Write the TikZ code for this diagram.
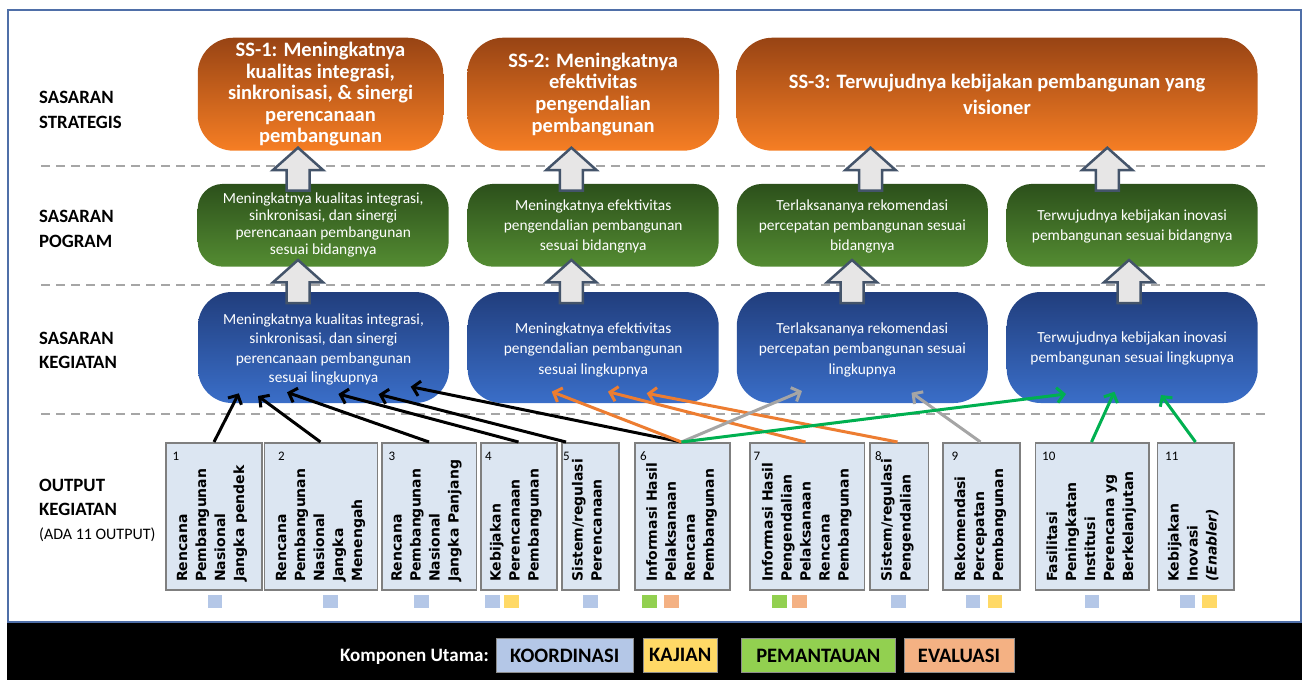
\documentclass[tikz,border=0pt]{standalone}
\usepackage{fontspec}
\setmainfont{Carlito}
\newfontfamily\dvfont{DejaVu Sans}
\usetikzlibrary{arrows.meta}
\definecolor{ortop}{RGB}{152,68,20}
\definecolor{orbot}{RGB}{246,126,36}
\definecolor{grtop}{RGB}{44,80,27}
\definecolor{grbot}{RGB}{84,140,50}
\definecolor{bltop}{RGB}{33,62,125}
\definecolor{blbot}{RGB}{58,110,200}
\definecolor{ofill}{RGB}{220,230,242}
\definecolor{obord}{RGB}{127,127,127}
\definecolor{arrfill}{RGB}{231,230,230}
\definecolor{arrdraw}{RGB}{68,84,106}
\definecolor{dashc}{RGB}{166,166,166}
\definecolor{framec}{RGB}{79,111,168}
\definecolor{kcol}{RGB}{180,199,231}
\definecolor{jcol}{RGB}{255,217,102}
\definecolor{pcol}{RGB}{146,208,80}
\definecolor{ecol}{RGB}{244,177,131}
\definecolor{oranln}{RGB}{237,125,49}
\definecolor{grayln}{RGB}{165,165,165}
\definecolor{greenln}{RGB}{0,176,80}
\tikzset{
  ssbox/.style={rounded corners=36pt, top color=ortop, bottom color=orbot, draw=none,
    text=white, align=center, inner sep=0pt, font=\fontsize{20.5}{21.6}\selectfont\bfseries},
  gbox/.style={rounded corners=25pt, top color=grtop, bottom color=grbot, draw=none,
    text=white, align=center, inner sep=0pt, minimum height=82.7pt, minimum width=251pt},
  blbox/.style={rounded corners=34pt, top color=bltop, bottom color=blbot, draw=none,
    text=white, align=center, inner sep=0pt, minimum height=111pt, minimum width=251pt},
  boxtext/.style={text=white, align=center, inner sep=0pt},
  obox/.style={draw=obord, fill=ofill, line width=1.5pt, minimum height=147pt,
    anchor=north west, inner sep=0pt},
  vtext/.style={rotate=90, anchor=base west, inner sep=0pt,
    font=\dvfont\bfseries\fontsize{14}{19}\selectfont},
  numlbl/.style={anchor=base west, inner sep=0pt, font=\fontsize{13}{15}\selectfont},
  lvl/.style={anchor=base west, inner sep=0pt, font=\bfseries\fontsize{18.8}{24.5}\selectfont},
  dashln/.style={draw=dashc, line width=2.2pt, dash pattern=on 9pt off 6pt},
  barrow/.style={draw=arrdraw, fill=arrfill, line width=2.5pt, line join=miter},
  conn/.style={line width=3pt, -{Straight Barb[length=7pt,width=15pt]}},
  legbox/.style={draw=black!45, line width=1pt, minimum height=34pt, inner sep=0pt,
    font=\bfseries\fontsize{20.5}{24}\selectfont},
  pics/uparrow/.style={code={
    \draw[barrow] (-11.5,43) -- (-11.5,22.3) -- (-25,22.3) -- (0,0) -- (25,22.3)
      -- (11.5,22.3) -- (11.5,43) -- cycle;}}
}
\begin{document}
\begin{tikzpicture}[x=1pt,y=-1pt]
\useasboundingbox (0,0) rectangle (1306,680);
\fill[white] (0,0) rectangle (1306,680);
\fill[black] (7,622) rectangle (1302,680);
\draw[framec, line width=1.5pt] (8,10) rectangle (1301,622);

% level labels
\node[lvl] (lss) at (39,103.8) {\begin{tabular}[t]{@{}l@{}}SASARAN\\STRATEGIS\end{tabular}};
\node[lvl] (lsp) at (39,222.7) {\begin{tabular}[t]{@{}l@{}}SASARAN\\POGRAM\end{tabular}};
\node[lvl] (lsk) at (39,344) {\begin{tabular}[t]{@{}l@{}}SASARAN\\KEGIATAN\end{tabular}};
\node[lvl] (lok) at (39,491) {\begin{tabular}[t]{@{}l@{}}OUTPUT\\KEGIATAN\end{tabular}};
\node[anchor=base west, inner sep=0pt, font=\fontsize{16}{19}\selectfont] (lada) at (39,539.5) {(ADA 11 OUTPUT)};

% dashed separators
\draw[dashln] (41,165.7) -- (1268,165.7);
\draw[dashln] (41,285) -- (1268,285);
\draw[dashln] (41,414) -- (1268,414);

% sasaran strategis
\node[ssbox, minimum width=245.5pt, minimum height=113pt] (ss1) at (320.5,94.2)
  {SS-1: Meningkatnya\\kualitas integrasi,\\sinkronisasi, \& sinergi\\perencanaan\\pembangunan};
\node[ssbox, minimum width=251.6pt, minimum height=113pt] (ss2) at (593.2,94.2)
  {SS-2: Meningkatnya\\efektivitas\\pengendalian\\pembangunan};
\node[ssbox, minimum width=521pt, minimum height=113pt, font=\fontsize{20.5}{26.6}\selectfont\bfseries] (ss3) at (997,94.2)
  {SS-3: Terwujudnya kebijakan pembangunan yang\\visioner};

% sasaran program
\node[gbox] (g1) at (323.2,225.3) {};
\node[boxtext, font=\fontsize{15.4}{16.7}\selectfont] (g1t) at (323.2,225) {Meningkatnya kualitas integrasi,\\sinkronisasi, dan sinergi\\perencanaan pembangunan\\sesuai bidangnya};
\node[gbox] (g2) at (593.2,225.3) {};
\node[boxtext, font=\fontsize{15.4}{20}\selectfont] (g2t) at (593.2,226.5) {Meningkatnya efektivitas\\pengendalian pembangunan\\sesuai bidangnya};
\node[gbox] (g3) at (862.3,225.3) {};
\node[boxtext, font=\fontsize{15.4}{20}\selectfont] (g3t) at (862.3,226.5) {Terlaksananya rekomendasi\\percepatan pembangunan sesuai\\bidangnya};
\node[gbox] (g4) at (1132.2,225.3) {};
\node[boxtext, font=\fontsize{15.4}{20}\selectfont] (g4t) at (1132.2,226.5) {Terwujudnya kebijakan inovasi\\pembangunan sesuai bidangnya};

% sasaran kegiatan
\node[blbox] (b1) at (323.5,347.5) {};
\node[boxtext, font=\fontsize{15.4}{19.3}\selectfont] (b1t) at (323.5,349.5) {Meningkatnya kualitas integrasi,\\sinkronisasi, dan sinergi\\perencanaan pembangunan\\sesuai lingkupnya};
\node[blbox] (b2) at (593.2,347.5) {};
\node[boxtext, font=\fontsize{15.4}{20.5}\selectfont] (b2t) at (593.2,349.5) {Meningkatnya efektivitas\\pengendalian pembangunan\\sesuai lingkupnya};
\node[blbox] (b3) at (862.3,347.5) {};
\node[boxtext, font=\fontsize{15.4}{20.5}\selectfont] (b3t) at (862.3,349.5) {Terlaksananya rekomendasi\\percepatan pembangunan sesuai\\lingkupnya};
\node[blbox] (b4) at (1132.2,347.5) {};
\node[boxtext, font=\fontsize{15.4}{20.5}\selectfont] (b4t) at (1132.2,348.5) {Terwujudnya kebijakan inovasi\\pembangunan sesuai lingkupnya};

% block arrows
\pic at (298,147.7) {uparrow};
\pic at (571.4,147.7) {uparrow};
\pic at (870.5,147.7) {uparrow};
\pic at (1107.3,147.7) {uparrow};
\pic at (298,260) {uparrow};
\pic at (571.4,260) {uparrow};
\pic at (852,260) {uparrow};
\pic at (1129,260) {uparrow};

% output boxes
\node[obox, minimum width=96pt] (o1) at (165,442) {};
\node[obox, minimum width=113.2pt] (o2) at (263.5,442) {};
\node[obox, minimum width=94.6pt] (o3) at (381,442) {};
\node[obox, minimum width=76pt] (o4) at (480,442) {};
\node[obox, minimum width=57pt] (o5) at (561,442) {};
\node[obox, minimum width=95pt] (o6) at (634.4,442) {};
\node[obox, minimum width=114.7pt] (o7) at (749,442) {};
\node[obox, minimum width=58.5pt] (o8) at (869,442) {};
\node[obox, minimum width=76.6pt] (o9) at (942.4,442) {};
\node[obox, minimum width=113.7pt] (o10) at (1034.7,442) {};
\node[obox, minimum width=76.5pt] (o11) at (1156.8,442) {};

\node[numlbl] (n1) at (172.5,460) {1};
\node[numlbl] (n2) at (278,460) {2};
\node[numlbl] (n3) at (388.5,460) {3};
\node[numlbl] (n4) at (485,460) {4};
\node[numlbl] (n5) at (563,460) {5};
\node[numlbl] (n6) at (640,460) {6};
\node[numlbl] (n7) at (753.5,460) {7};
\node[numlbl] (n8) at (875,460) {8};
\node[numlbl] (n9) at (951.5,460) {9};
\node[numlbl] (n10) at (1042,460) {10};
\node[numlbl] (n11) at (1165,460) {11};

\node[vtext] (v1) at (187,582) {\begin{tabular}[t]{@{}l@{}}Rencana\\Pembangunan\\Nasional\\Jangka pendek\end{tabular}};
\node[vtext] (v2) at (286,582) {\begin{tabular}[t]{@{}l@{}}Rencana\\Pembangunan\\Nasional\\Jangka\\Menengah\end{tabular}};
\node[vtext] (v3) at (401.7,582) {\begin{tabular}[t]{@{}l@{}}Rencana\\Pembangunan\\Nasional\\Jangka Panjang\end{tabular}};
\node[vtext] (v4) at (500.6,582) {\begin{tabular}[t]{@{}l@{}}Kebijakan\\Perencanaan\\Pembangunan\end{tabular}};
\node[vtext] (v5) at (582.7,582) {\begin{tabular}[t]{@{}l@{}}Sistem/regulasi\\Perencanaan\end{tabular}};
\node[vtext] (v6) at (656.8,582) {\begin{tabular}[t]{@{}l@{}}Informasi Hasil\\Pelaksanaan\\Rencana\\Pembangunan\end{tabular}};
\node[vtext] (v7) at (772.7,582) {\begin{tabular}[t]{@{}l@{}}Informasi Hasil\\Pengendalian\\Pelaksanaan\\Rencana\\Pembangunan\end{tabular}};
\node[vtext] (v8) at (891.7,582) {\begin{tabular}[t]{@{}l@{}}Sistem/regulasi\\Pengendalian\end{tabular}};
\node[vtext] (v9) at (965,582) {\begin{tabular}[t]{@{}l@{}}Rekomendasi\\Percepatan\\Pembangunan\end{tabular}};
\node[vtext] (v10) at (1057,582) {\begin{tabular}[t]{@{}l@{}}Fasilitasi\\Peningkatan\\Institusi\\Perencana yg\\Berkelanjutan\end{tabular}};
\node[vtext] (v11) at (1178.7,582) {\begin{tabular}[t]{@{}l@{}}Kebijakan\\Inovasi\\\textit{(Enabler)}\end{tabular}};

% component squares
\fill[kcol] (207.5,595) rectangle ++(14.5,13);
\fill[kcol] (323,595) rectangle ++(14.5,13);
\fill[kcol] (414,595) rectangle ++(14.5,13);
\fill[kcol] (485,595) rectangle ++(14.5,13);
\fill[jcol] (504,595) rectangle ++(14.5,13);
\fill[kcol] (583,595) rectangle ++(14.5,13);
\fill[pcol] (642,595) rectangle ++(14.5,13);
\fill[ecol] (664,595) rectangle ++(14.5,13);
\fill[pcol] (772,595) rectangle ++(14.5,13);
\fill[ecol] (792,595) rectangle ++(14.5,13);
\fill[kcol] (891,595) rectangle ++(14.5,13);
\fill[kcol] (965.6,595) rectangle ++(14.5,13);
\fill[jcol] (987.5,595) rectangle ++(14.5,13);
\fill[kcol] (1084.6,595) rectangle ++(14.5,13);
\fill[kcol] (1180,595) rectangle ++(14.5,13);
\fill[jcol] (1202,595) rectangle ++(14.5,13);

% connector end points
\coordinate (t1) at (214,442);
\coordinate (t2) at (320.5,442);
\coordinate (t3) at (429,442);
\coordinate (t4) at (518.5,442);
\coordinate (t5) at (566,442);
\coordinate (t6) at (681.5,442);
\coordinate (t7) at (805.5,442);
\coordinate (t8) at (897.5,442);
\coordinate (t9) at (980.5,442);
\coordinate (t10) at (1091.5,442);
\coordinate (t11) at (1195.5,442);
\coordinate (hb1) at (238.8,393.3);
\coordinate (hb2) at (258,396);
\coordinate (hb3) at (287,392.3);
\coordinate (hb4) at (338.4,394);
\coordinate (hb5) at (378.6,394.3);
\coordinate (hb6) at (410.7,386.7);
\coordinate (ho1) at (551.7,391.7);
\coordinate (ho2) at (608,391.7);
\coordinate (ho3) at (646.7,393.3);
\coordinate (hg1) at (802,391);
\coordinate (hg2) at (911.5,392.7);
\coordinate (hn1) at (1066,394);
\coordinate (hn2) at (1114.4,391.7);
\coordinate (hn3) at (1161,395);

% connectors
\draw[conn, black] (t1) -- (hb1);
\draw[conn, black] (t2) -- (hb2);
\draw[conn, black] (t3) -- (hb3);
\draw[conn, black] (t4) -- (hb4);
\draw[conn, black] (t5) -- (hb5);
\draw[conn, black] (t6) -- (hb6);
\draw[conn, oranln] (t6) -- (ho1);
\draw[conn, oranln] (t7) -- (ho2);
\draw[conn, oranln] (t8) -- (ho3);
\draw[conn, grayln] (t6) -- (hg1);
\draw[conn, grayln] (t9) -- (hg2);
\draw[conn, greenln] (t6) -- (hn1);
\draw[conn, greenln] (t10) -- (hn2);
\draw[conn, greenln] (t11) -- (hn3);

% legend
\node[anchor=east, inner sep=0pt, text=white, font=\bfseries\fontsize{19}{22}\selectfont] (komp) at (489,657) {Komponen Utama:};
\node[legbox, fill=kcol, minimum width=137.5pt] (lk) at (564.75,655.5) {KOORDINASI};
\node[legbox, fill=jcol, minimum width=73.5pt] (lj) at (680.25,655) {KAJIAN};
\node[legbox, fill=pcol, minimum width=154.7pt] (lp) at (818.35,655.5) {PEMANTAUAN};
\node[legbox, fill=ecol, minimum width=110pt] (le) at (959,655.5) {EVALUASI};
\end{tikzpicture}
\end{document}
